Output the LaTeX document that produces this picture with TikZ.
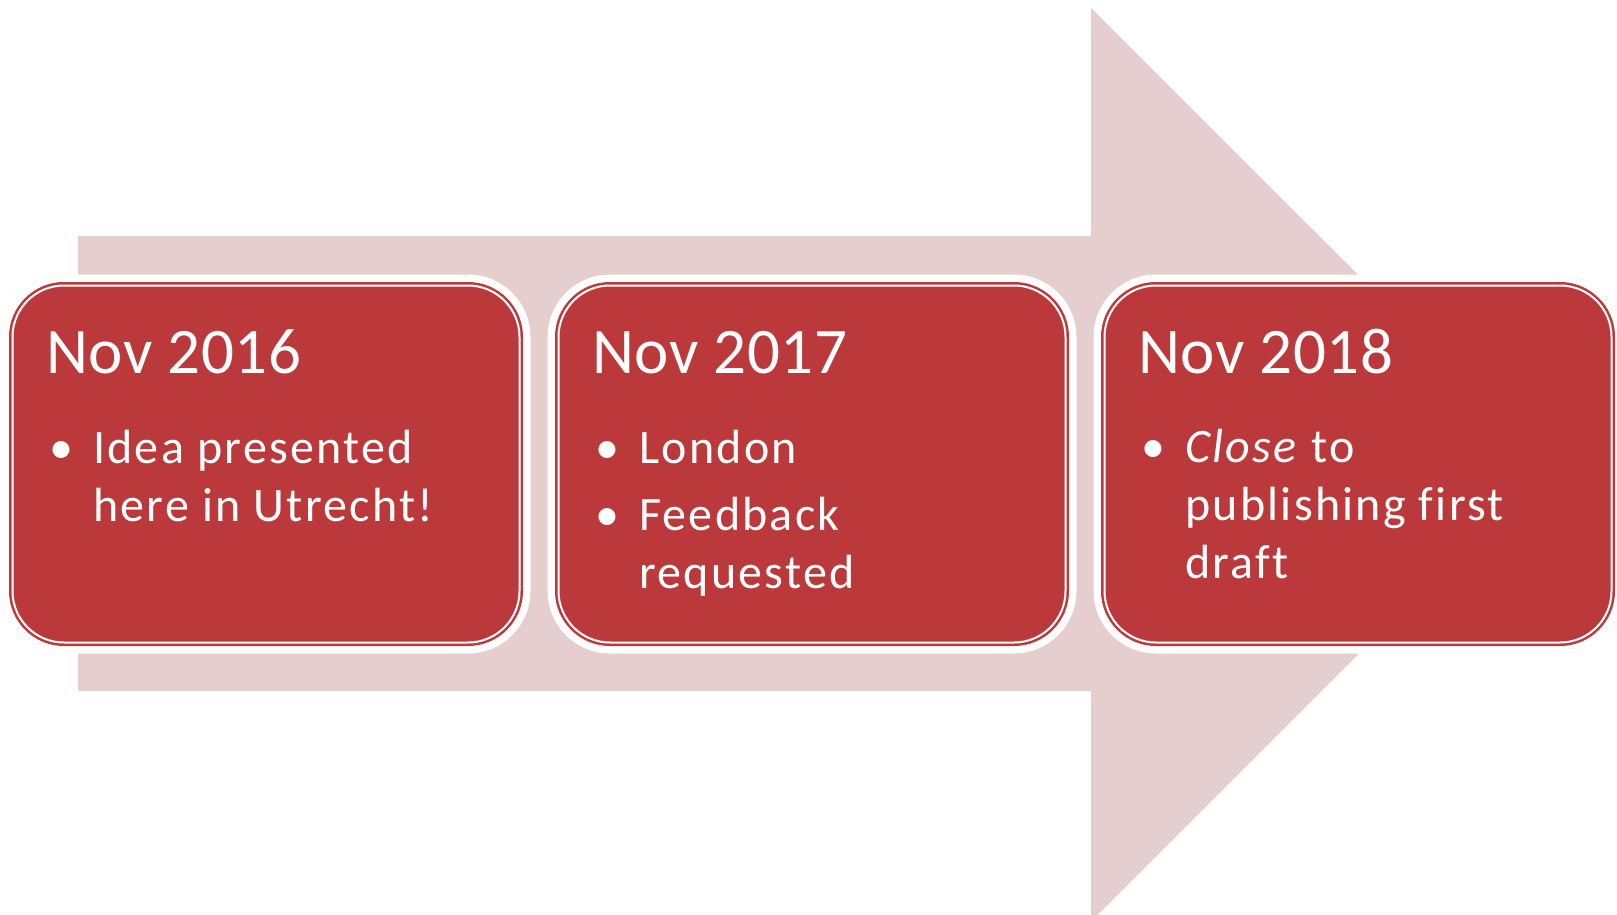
\documentclass[tikz,border=0pt]{standalone}
\usepackage{fontspec}
\setmainfont{Carlito}[Ligatures=NoCommon]
\newfontfamily\itemfont{Carlito}[LetterSpace=4.7, Ligatures=NoCommon]
\newfontfamily\titlefont{Carlito}[LetterSpace=0.8, Ligatures=NoCommon]
\usetikzlibrary{calc}

\definecolor{boxred}{RGB}{187,57,59}
\definecolor{arrowpink}{RGB}{230,206,207}

% one bullet point with a hanging indent
\newlength{\bind}
\setlength{\bind}{23.5pt}
\newcommand{\bitem}[1]{\noindent\hangindent=\bind\hangafter=1%
  \makebox[\bind][l]{\hspace{1.5pt}\textbullet}#1\par}
\newcommand{\bgap}{\vskip4.5pt}

\tikzset{
  yearbox/.style={rectangle, rounded corners=25.75pt,
    minimum width=253.5pt, minimum height=178.5pt, inner sep=0pt,
    fill=boxred, draw=boxred, double=white, double distance=1pt,
    line width=1.25pt,
    preaction={draw=white, line width=11pt}},
  yeartitle/.style={anchor=base west, inner sep=0pt, text=white,
    font=\titlefont\fontsize{32.5pt}{39pt}\selectfont},
  yearitems/.style={anchor=base west, inner sep=0pt, text=white,
    font=\itemfont\fontsize{24pt}{29pt}\selectfont}
}

\begin{document}
\begin{tikzpicture}[x=0.5pt,y=-0.5pt]
	
	% ---- (A) page size in pixels ----
	\useasboundingbox (0,0) rectangle (1617,915);
	
	% ---- (B) the big arrow behind ----
	\def\shafttop{236}
	\def\shaftbot{691}
	\def\headx{1091}
	% the lower tip of the head runs off the page
	\fill[arrowpink] (78,\shafttop) -- (\headx,\shafttop) -- (\headx,8)
	-- (1548,464.5) -- (1097.5,915) -- (\headx,915) -- (\headx,\shaftbot)
	-- (78,\shaftbot) -- cycle;
	
	% ---- (C) the three boxes ----
	\foreach \i/\cx in {1/266, 2/812, 3/1358}{
		\node[yearbox] (box\i) at (\cx,464) {};
	}
	
	% ---- (D) titles and bullet points ----
	\node[yeartitle] (title1) at ($(box1.north west)+(34.5,89.5)$) {Nov 2016};
	\node[yearitems] (items1) at ($(box1.north west)+(34.5,179.5)$)
	{\vtop{\hsize=220pt\parskip=0pt
			\bitem{Idea presented\\here in Utrecht!}}};
	
	\node[yeartitle] (title2) at ($(box2.north west)+(34.5,89.5)$) {Nov 2017};
	\node[yearitems] (items2) at ($(box2.north west)+(34.5,179.5)$)
	{\vtop{\hsize=220pt\parskip=0pt
			\bitem{London}\bgap
			\bitem{Feedback\\requested}}};
	
	\node[yeartitle] (title3) at ($(box3.north west)+(34.5,89.5)$) {Nov 2018};
	\node[yearitems] (items3) at ($(box3.north west)+(34.5,178.5)$)
	{\vtop{\hsize=220pt\parskip=0pt
			\bitem{\textit{Close} to\\publishing first\\draft}}};
	
\end{tikzpicture}
\end{document}
